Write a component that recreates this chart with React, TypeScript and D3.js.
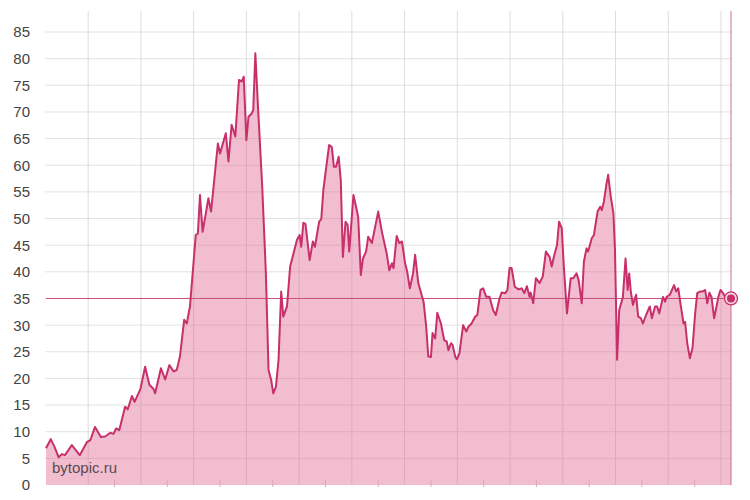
import React from "react";
import * as d3 from "d3";

const times: number[] = [
  2005.2, 2005.29, 2005.36, 2005.44, 2005.5, 2005.56, 2005.69, 2005.84, 2005.98, 2006.04,
  2006.13, 2006.24, 2006.32, 2006.42, 2006.48, 2006.53, 2006.59, 2006.7, 2006.75, 2006.83,
  2006.88, 2006.99, 2007.08, 2007.16, 2007.24, 2007.27, 2007.38, 2007.46, 2007.54, 2007.62,
  2007.68, 2007.74, 2007.82, 2007.87, 2007.93, 2008.04, 2008.08, 2008.12, 2008.17, 2008.28,
  2008.33, 2008.46, 2008.5, 2008.61, 2008.66, 2008.72, 2008.79, 2008.86, 2008.91, 2008.95,
  2009.0, 2009.04, 2009.1, 2009.13, 2009.17, 2009.22, 2009.3, 2009.37, 2009.42, 2009.47,
  2009.51, 2009.56, 2009.61, 2009.66, 2009.7, 2009.77, 2009.83, 2009.96, 2010.01, 2010.04,
  2010.08, 2010.12, 2010.2, 2010.26, 2010.3, 2010.38, 2010.42, 2010.46, 2010.54, 2010.57,
  2010.62, 2010.66, 2010.7, 2010.75, 2010.79, 2010.83, 2010.88, 2010.92, 2010.95, 2011.03,
  2011.08, 2011.12, 2011.17, 2011.21, 2011.27, 2011.31, 2011.38, 2011.5, 2011.57, 2011.66,
  2011.71, 2011.76, 2011.79, 2011.85, 2011.9, 2011.95, 2012.01, 2012.05, 2012.1, 2012.16,
  2012.2, 2012.26, 2012.36, 2012.41, 2012.45, 2012.5, 2012.53, 2012.58, 2012.62, 2012.69,
  2012.75, 2012.8, 2012.83, 2012.88, 2012.91, 2012.96, 2012.99, 2013.04, 2013.11, 2013.17,
  2013.21, 2013.27, 2013.34, 2013.38, 2013.44, 2013.49, 2013.55, 2013.61, 2013.68, 2013.73,
  2013.8, 2013.84, 2013.91, 2013.95, 2013.99, 2014.03, 2014.09, 2014.16, 2014.22, 2014.27,
  2014.32, 2014.37, 2014.39, 2014.44, 2014.49, 2014.56, 2014.62, 2014.68, 2014.75, 2014.79,
  2014.83, 2014.89, 2014.93, 2014.98, 2015.02, 2015.08, 2015.15, 2015.2, 2015.26, 2015.3,
  2015.36, 2015.4, 2015.45, 2015.48, 2015.55, 2015.59, 2015.66, 2015.71, 2015.74, 2015.78,
  2015.83, 2015.86, 2015.91, 2015.96, 2015.99, 2016.03, 2016.07, 2016.14, 2016.19, 2016.23,
  2016.26, 2016.29, 2016.33, 2016.39, 2016.43, 2016.48, 2016.52, 2016.58, 2016.65, 2016.69,
  2016.75, 2016.79, 2016.83, 2016.9, 2016.94, 2016.97, 2017.03, 2017.11, 2017.15, 2017.19,
  2017.24, 2017.29, 2017.32, 2017.36, 2017.41, 2017.46, 2017.51, 2017.55, 2017.6, 2017.65,
  2017.7, 2017.74, 2017.78, 2017.82, 2017.87, 2017.91, 2017.95, 2017.99, 2018.04, 2018.11,
  2018.19,
];

const values: number[] = [
  6.9, 8.6, 7.2, 5.2, 5.8, 5.6, 7.5, 5.6, 8.1, 8.4,
  10.9, 9.0, 9.1, 9.8, 9.6, 10.6, 10.3, 14.7, 14.2, 16.7,
  15.6, 18.0, 22.2, 18.8, 18.0, 17.2, 21.9, 19.8, 22.5, 21.3,
  21.6, 24.1, 31.0, 30.3, 33.5, 46.9, 47.2, 54.4, 47.5, 53.8,
  51.3, 64.1, 62.2, 66.0, 60.7, 67.6, 65.4, 76.0, 75.7, 76.6,
  64.7, 69.1, 69.7, 70.4, 81.0, 71.0, 56.0, 39.7, 21.6, 19.7,
  17.2, 18.4, 23.5, 36.3, 31.6, 33.5, 41.0, 46.0, 46.9, 44.7,
  49.2, 49.0, 42.2, 45.7, 44.7, 49.4, 49.9, 55.4, 61.6, 63.8,
  63.4, 59.7, 59.7, 61.6, 57.2, 42.8, 49.4, 48.8, 43.8, 54.4,
  52.2, 50.3, 39.4, 42.5, 43.8, 46.6, 45.4, 51.3, 47.5, 43.5,
  40.3, 41.6, 40.7, 46.7, 45.4, 45.7, 41.6, 40.0, 36.9, 39.7,
  43.2, 37.9, 34.4, 29.7, 24.1, 24.0, 28.5, 27.5, 32.3, 30.3,
  27.2, 26.9, 25.3, 26.6, 26.3, 24.1, 23.6, 24.7, 30.0, 28.8,
  29.7, 30.3, 31.6, 31.9, 36.6, 36.9, 35.3, 35.3, 32.8, 31.9,
  35.0, 36.1, 36.0, 36.6, 40.7, 40.7, 37.2, 36.7, 36.9, 36.0,
  37.3, 35.3, 36.1, 34.1, 38.8, 37.9, 39.1, 43.8, 42.8, 41.0,
  42.8, 45.0, 49.4, 48.2, 41.0, 32.2, 38.8, 38.8, 39.7, 38.5,
  34.1, 41.9, 44.4, 43.8, 46.3, 46.9, 51.3, 52.2, 51.6, 53.2,
  56.6, 58.2, 54.1, 51.0, 44.1, 23.5, 32.8, 35.3, 42.5, 36.6,
  39.7, 36.3, 33.8, 35.7, 31.6, 31.3, 30.3, 31.9, 33.5, 31.3,
  33.5, 33.5, 32.2, 35.3, 34.4, 35.3, 35.7, 37.5, 36.3, 36.9,
  33.5, 30.3, 30.6, 26.6, 23.8, 25.7, 32.2, 36.0, 36.3, 36.3,
  36.6, 34.1, 36.1, 35.3, 31.3, 33.2, 35.3, 36.6, 36.0, 34.7,
  35.0,
];

const yTicks: number[] = [0, 5, 10, 15, 20, 25, 30, 35, 40, 45, 50, 55, 60, 65, 70, 75, 80, 85];
const yearTicks: number[] = [2006, 2007, 2008, 2009, 2010, 2011, 2012, 2013, 2014, 2015, 2016, 2017, 2018];
const midYearTicks: number[] = [2006.5, 2007.5, 2008.5, 2009.5, 2010.5, 2011.5, 2012.5, 2013.5, 2014.5, 2015.5, 2016.5, 2017.5];
const watermark = "bytopic.ru";

const W = 750;
const H = 500;
const LEFT = 46;
const RIGHT = 731;
const TOP = 11;
const Y0 = 485;
const Y85 = 32;

export default function App() {
  const data = times.map((t, i) => ({ t, v: values[i] }));
  const x = d3.scaleLinear().domain(d3.extent(times) as [number, number]).range([LEFT, RIGHT]);
  const y = d3.scaleLinear().domain([0, 85]).range([Y0, Y85]);

  const line = d3.line<{ t: number; v: number }>().x((d) => x(d.t)).y((d) => y(d.v));
  const area = d3
    .area<{ t: number; v: number }>()
    .x((d) => x(d.t))
    .y0(y(0))
    .y1((d) => y(d.v));

  const last = data[data.length - 1];
  const lineColor = "#c7306a";
  const font = "Arial, 'Liberation Sans', sans-serif";

  return (
    <svg
      width={W}
      height={H}
      style={{ position: "absolute", left: 0, top: 0, background: "#fff" }}
    >
      {yTicks.filter((v) => v > 0).map((v) => (
        <line key={"h" + v} x1={LEFT - 1} x2={RIGHT} y1={y(v)} y2={y(v)} stroke="#e2e2e2" strokeWidth={1} />
      ))}
      {yearTicks.map((t) => (
        <line key={"v" + t} x1={x(t)} x2={x(t)} y1={TOP} y2={Y0} stroke="#dcdcdc" strokeWidth={1} />
      ))}
      <path d={area(data) || ""} fill="rgb(225,100,140)" fillOpacity={0.42} />
      {midYearTicks.map((t) => (
        <line key={"m" + t} x1={x(t)} x2={x(t)} y1={Y0 - 5} y2={Y0 + 2} stroke="#d9a9ba" strokeWidth={1} />
      ))}
      <line x1={LEFT} x2={RIGHT} y1={y(last.v)} y2={y(last.v)} stroke="#c9507c" strokeWidth={1} />
      <line x1={x(last.t)} x2={x(last.t)} y1={TOP} y2={Y0} stroke="#d06a8c" strokeWidth={1} />
      <path d={line(data) || ""} fill="none" stroke={lineColor} strokeWidth={2} strokeLinejoin="round" />
      <circle cx={x(last.t)} cy={y(last.v)} r={6.5} fill="#f6d8e2" stroke={lineColor} strokeWidth={1.3} />
      <circle cx={x(last.t)} cy={y(last.v)} r={4} fill={lineColor} />
      {yTicks.map((v) => (
        <text
          key={"yl" + v}
          x={30}
          y={y(v)}
          dy="0.36em"
          textAnchor="end"
          fontFamily={font}
          fontSize={15}
          fill="#444"
        >
          {v}
        </text>
      ))}
      {yearTicks.map((t) => (
        <text
          key={"xl" + t}
          x={x(t)}
          y={510}
          textAnchor="middle"
          fontFamily={font}
          fontSize={12}
          fill="#444"
        >
          {t}
        </text>
      ))}
      <text x={52} y={473} fontFamily={font} fontSize={15} fill="#5a4a52">
        {watermark}
      </text>
    </svg>
  );
}
